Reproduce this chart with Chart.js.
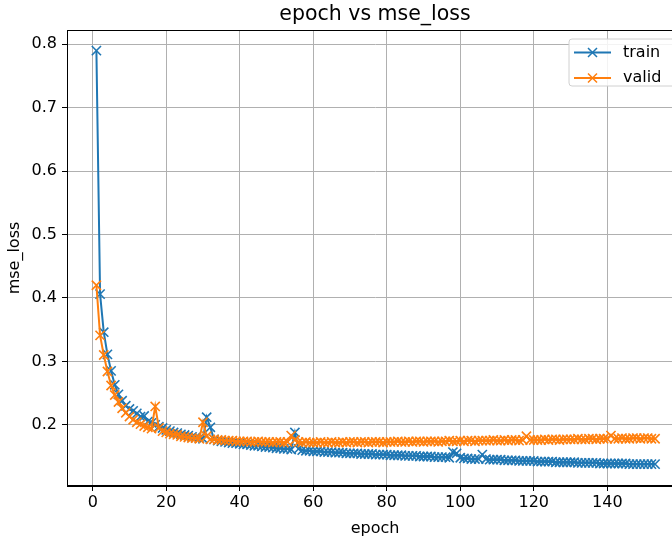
<!DOCTYPE html>
<html>
<head>
<meta charset="utf-8">
<script src="https://cdn.jsdelivr.net/npm/chart.js@4.4.0/dist/chart.umd.min.js"></script>
<style>
  html, body { margin: 0; padding: 0; background: #fff; overflow: hidden; }
  #wrap { width: 700px; height: 543px; }
</style>
</head>
<body>
<div id="wrap"><canvas id="c" width="700" height="543"></canvas></div>
<script>
// ---- data ----
const seriesNames = ["train", "valid"];

const trainLoss = [
  0.790, 0.406, 0.346, 0.311, 0.285, 0.263, 0.248, 0.238, 0.230, 0.225,
  0.222, 0.218, 0.213, 0.214, 0.205, 0.203, 0.200, 0.197, 0.195, 0.192,
  0.190, 0.188, 0.187, 0.185, 0.184, 0.183, 0.181, 0.180, 0.179, 0.178,
  0.212, 0.196, 0.177, 0.175, 0.174, 0.173, 0.172, 0.171, 0.171, 0.170,
  0.169, 0.169, 0.168, 0.167, 0.167, 0.166, 0.165, 0.165, 0.164, 0.163,
  0.163, 0.162, 0.162, 0.161, 0.188, 0.162, 0.160, 0.159, 0.159, 0.158,
  0.158, 0.158, 0.157, 0.157, 0.157, 0.156, 0.156, 0.156, 0.155, 0.155,
  0.155, 0.155, 0.154, 0.154, 0.154, 0.154, 0.153, 0.153, 0.153, 0.153,
  0.152, 0.152, 0.152, 0.152, 0.151, 0.151, 0.151, 0.151, 0.150, 0.150,
  0.150, 0.150, 0.149, 0.149, 0.149, 0.149, 0.148, 0.157, 0.155, 0.148,
  0.147, 0.147, 0.146, 0.146, 0.146, 0.153, 0.146, 0.145, 0.145, 0.145,
  0.145, 0.144, 0.144, 0.144, 0.144, 0.143, 0.143, 0.143, 0.143, 0.143,
  0.142, 0.142, 0.142, 0.142, 0.142, 0.141, 0.141, 0.141, 0.141, 0.141,
  0.141, 0.140, 0.140, 0.140, 0.140, 0.140, 0.140, 0.139, 0.139, 0.139,
  0.139, 0.139, 0.139, 0.139, 0.139, 0.138, 0.138, 0.138, 0.138, 0.138,
  0.138, 0.138, 0.138
];

const validLoss = [
  0.420, 0.341, 0.310, 0.284, 0.262, 0.247, 0.236, 0.226, 0.219, 0.213,
  0.208, 0.204, 0.201, 0.198, 0.196, 0.194, 0.229, 0.195, 0.190, 0.188,
  0.186, 0.185, 0.184, 0.182, 0.181, 0.180, 0.179, 0.179, 0.178, 0.204,
  0.182, 0.177, 0.177, 0.176, 0.176, 0.175, 0.175, 0.175, 0.174, 0.174,
  0.174, 0.174, 0.173, 0.173, 0.174, 0.173, 0.173, 0.173, 0.172, 0.173,
  0.173, 0.172, 0.173, 0.183, 0.176, 0.173, 0.172, 0.173, 0.172, 0.172,
  0.172, 0.173, 0.172, 0.172, 0.173, 0.172, 0.172, 0.173, 0.172, 0.173,
  0.173, 0.172, 0.173, 0.173, 0.172, 0.173, 0.173, 0.173, 0.172, 0.173,
  0.173, 0.173, 0.174, 0.173, 0.173, 0.174, 0.173, 0.174, 0.174, 0.173,
  0.174, 0.174, 0.174, 0.173, 0.174, 0.174, 0.175, 0.174, 0.174, 0.175,
  0.174, 0.175, 0.175, 0.174, 0.175, 0.175, 0.175, 0.175, 0.176, 0.175,
  0.175, 0.176, 0.175, 0.176, 0.176, 0.175, 0.176, 0.182, 0.176, 0.176,
  0.176, 0.176, 0.177, 0.176, 0.177, 0.177, 0.176, 0.177, 0.177, 0.177,
  0.177, 0.178, 0.177, 0.177, 0.178, 0.178, 0.177, 0.178, 0.178, 0.178,
  0.183, 0.178, 0.178, 0.179, 0.178, 0.178, 0.179, 0.179, 0.178, 0.179,
  0.179, 0.178, 0.178
];

// epochs 1..N (one per recorded value)
const epochs = trainLoss.map((_, i) => i + 1);

const xTickValues = [0, 20, 40, 60, 80, 100, 120, 140];
const yTickValues = [0.2, 0.3, 0.4, 0.5, 0.6, 0.7, 0.8];

// ---- styling ----
const BLUE = "#1f77b4";
const ORANGE = "#ff7f0e";
const FONT = "'DejaVu Sans', sans-serif";

function toPoints(vals) {
  return vals.map((v, i) => ({ x: epochs[i], y: v }));
}

const frameAndLegend = {
  id: "frameAndLegend",
  afterLayout(chart) {
    // centre the title over the plot area, like matplotlib
    const tb = chart.titleBlock, a = chart.chartArea;
    if (tb && a) {
      tb.left = a.left;
      tb.right = a.right;
      tb.width = a.right - a.left;
    }
  },
  afterDraw(chart) {
    const { ctx, chartArea: a } = chart;
    ctx.save();
    ctx.strokeStyle = "#000";
    ctx.lineWidth = 1;
    ctx.strokeRect(a.left + 0.5, a.top + 0.5, a.right - a.left - 1, a.bottom - a.top - 1);

    const bx = a.right - 114, by = a.top + 9, bw = 107, bh = 47, r = 3;
    ctx.beginPath();
    ctx.moveTo(bx + r, by);
    ctx.lineTo(bx + bw - r, by);
    ctx.quadraticCurveTo(bx + bw, by, bx + bw, by + r);
    ctx.lineTo(bx + bw, by + bh - r);
    ctx.quadraticCurveTo(bx + bw, by + bh, bx + bw - r, by + bh);
    ctx.lineTo(bx + r, by + bh);
    ctx.quadraticCurveTo(bx, by + bh, bx, by + bh - r);
    ctx.lineTo(bx, by + r);
    ctx.quadraticCurveTo(bx, by, bx + r, by);
    ctx.closePath();
    ctx.fillStyle = "rgba(255,255,255,0.85)";
    ctx.fill();
    ctx.strokeStyle = "#d0d0d0";
    ctx.stroke();

    chart.data.datasets.forEach((ds, i) => {
      const y = by + 13.5 + i * 25.5;
      const x0 = bx + 5, x1 = bx + 42;
      ctx.strokeStyle = ds.borderColor;
      ctx.lineWidth = 2;
      ctx.beginPath();
      ctx.moveTo(x0, y); ctx.lineTo(x1, y); ctx.stroke();
      const cx = (x0 + x1) / 2, d = 4.5;
      ctx.lineWidth = 1.5;
      ctx.beginPath();
      ctx.moveTo(cx - d, y - d); ctx.lineTo(cx + d, y + d);
      ctx.moveTo(cx - d, y + d); ctx.lineTo(cx + d, y - d);
      ctx.stroke();
      ctx.fillStyle = "#000";
      ctx.font = "16px " + FONT;
      ctx.textBaseline = "middle";
      ctx.textAlign = "left";
      ctx.fillText(ds.label, x1 + 12, y);
    });
    ctx.restore();
  }
};

new Chart(document.getElementById("c"), {
  type: "line",
  data: {
    datasets: [
      {
        label: seriesNames[0],
        data: toPoints(trainLoss),
        borderColor: BLUE,
        backgroundColor: BLUE,
        borderWidth: 2,
        pointStyle: "crossRot",
        pointRadius: 6.5,
        pointBorderWidth: 1.6,
        pointBorderColor: BLUE,
        tension: 0,
        order: 1
      },
      {
        label: seriesNames[1],
        data: toPoints(validLoss),
        borderColor: ORANGE,
        backgroundColor: ORANGE,
        borderWidth: 2,
        pointStyle: "crossRot",
        pointRadius: 6.5,
        pointBorderWidth: 1.6,
        pointBorderColor: ORANGE,
        tension: 0,
        order: 0
      }
    ]
  },
  options: {
    responsive: false,
    animation: false,
    events: [],
    layout: { padding: { left: 0, right: 17, top: 0, bottom: 0 } },
    plugins: {
      legend: { display: false },
      tooltip: { enabled: false },
      title: {
        display: true,
        text: "epoch vs mse_loss",
        color: "#000",
        font: { family: FONT, size: 20.5, weight: "normal", lineHeight: 1.2 },
        padding: { top: 2, bottom: 3.4 }
      }
    },
    scales: {
      x: {
        type: "linear",
        min: -7.0,
        max: 160.6,
        afterBuildTicks: (s) => { s.ticks = xTickValues.map(v => ({ value: v })); },
        afterFit: (s) => { s.height = 57; },
        ticks: {
          color: "#000",
          font: { family: FONT, size: 16 },
          padding: 2,
          maxRotation: 0,
          callback: (v) => String(v)
        },
        grid: {
          color: "#b0b0b0",
          lineWidth: 1,
          drawTicks: true,
          tickLength: 5,
          tickColor: "#000",
          tickWidth: 1
        },
        border: { display: true, color: "#000", width: 1 },
        title: {
          display: true,
          text: "epoch",
          color: "#000",
          font: { family: FONT, size: 16, lineHeight: 1.2 },
          padding: { top: 0, bottom: 5 }
        }
      },
      y: {
        type: "linear",
        min: 0.1035,
        max: 0.8225,
        afterBuildTicks: (s) => { s.ticks = yTickValues.map(v => ({ value: v })); },
        afterFit: (s) => { s.width = 67; },
        ticks: {
          color: "#000",
          font: { family: FONT, size: 16 },
          padding: 5,
          callback: (v) => Number(v).toFixed(1)
        },
        grid: {
          color: "#b0b0b0",
          lineWidth: 1,
          drawTicks: true,
          tickLength: 5,
          tickColor: "#000",
          tickWidth: 1
        },
        border: { display: true, color: "#000", width: 1 },
        title: {
          display: true,
          text: "mse_loss",
          color: "#000",
          font: { family: FONT, size: 16, lineHeight: 1.2 },
          padding: { top: 5, bottom: 0 }
        }
      }
    }
  },
  plugins: [frameAndLegend]
});
</script>
</body>
</html>
